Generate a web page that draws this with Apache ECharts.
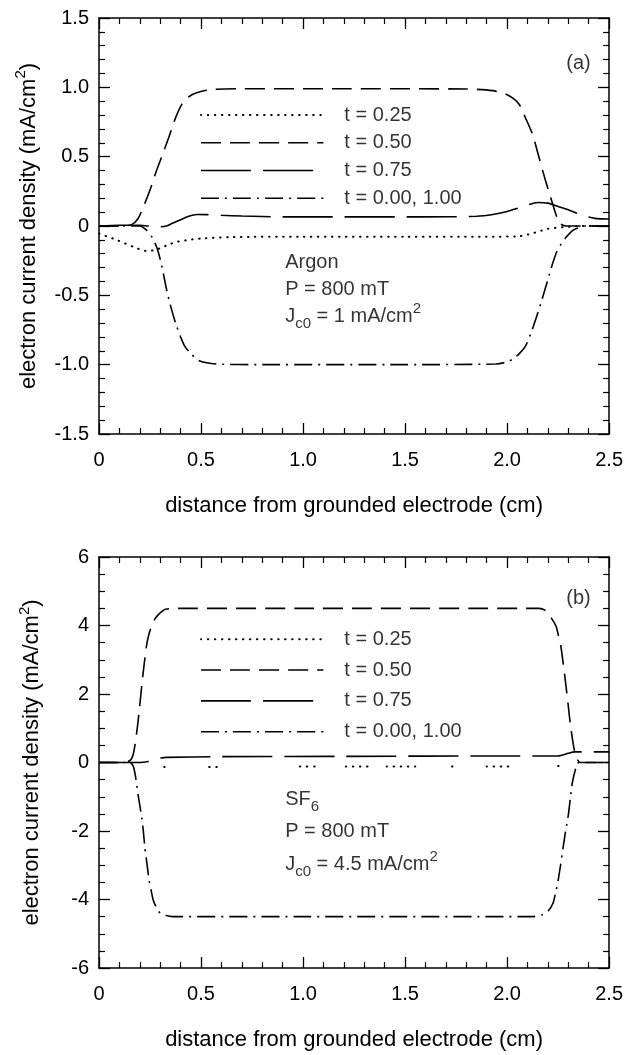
<!DOCTYPE html>
<html>
<head>
<meta charset="utf-8">
<script src="https://cdn.jsdelivr.net/npm/echarts@6/dist/echarts.min.js"></script>
<style>
  html, body { margin: 0; padding: 0; background: #fff; }
  #chart { width: 626px; height: 1055px; }
</style>
</head>
<body>
<div id="chart"></div>
<script>
// (a) Argon, P = 800 mT  -- [x (cm), J (mA/cm2)]
var argonT025 = [[0,-0.055],[0.086,-0.1],[0.168,-0.15],[0.233,-0.18],[0.27,-0.175],[0.3,-0.16],[0.34,-0.135],[0.38,-0.115],[0.44,-0.1],[0.5,-0.09],[0.65,-0.08],[1.0,-0.077],[1.5,-0.077],[1.9,-0.077],[2.05,-0.075],[2.12,-0.055],[2.2,-0.02],[2.29,-0.007],[2.37,0],[2.5,0]];
var argonT050 = [[0,0],[0.12,0],[0.16,0.01],[0.19,0.05],[0.217,0.136],[0.25,0.26],[0.282,0.40],[0.315,0.53],[0.347,0.66],[0.375,0.78],[0.405,0.876],[0.43,0.92],[0.46,0.95],[0.5,0.97],[0.56,0.985],[0.7,0.99],[1.2,0.99],[1.8,0.988],[1.93,0.976],[1.995,0.95],[2.03,0.92],[2.06,0.876],[2.09,0.78],[2.125,0.66],[2.15,0.53],[2.174,0.40],[2.2,0.27],[2.223,0.16],[2.245,0.06],[2.26,0.017],[2.29,0],[2.5,0]];
var argonT075 = [[0,0],[0.1,0.005],[0.2,0.005],[0.24,0],[0.3,-0.005],[0.33,0],[0.36,0.02],[0.4,0.045],[0.44,0.07],[0.48,0.083],[0.53,0.082],[0.6,0.077],[0.7,0.072],[0.9,0.066],[1.2,0.066],[1.6,0.066],[1.85,0.07],[1.93,0.083],[2.0,0.105],[2.08,0.14],[2.15,0.17],[2.2,0.165],[2.25,0.14],[2.3,0.118],[2.37,0.076],[2.43,0.055],[2.5,0.05]];
var argonT000 = [[0,0],[0.2,0],[0.233,-0.03],[0.26,-0.08],[0.282,-0.15],[0.3,-0.24],[0.315,-0.34],[0.33,-0.45],[0.347,-0.556],[0.365,-0.65],[0.38,-0.72],[0.4,-0.8],[0.42,-0.866],[0.45,-0.92],[0.494,-0.974],[0.576,-0.995],[0.8,-1.0],[1.5,-1.0],[1.946,-0.995],[2.0,-0.98],[2.027,-0.96],[2.06,-0.92],[2.09,-0.866],[2.115,-0.78],[2.14,-0.675],[2.165,-0.56],[2.19,-0.437],[2.215,-0.31],[2.24,-0.198],[2.265,-0.13],[2.29,-0.08],[2.315,-0.04],[2.337,-0.02],[2.385,0],[2.5,0]];

// (b) SF6, P = 800 mT
var sfT025 = [[0.32,-0.13],[0.345,-0.13],[0.4,'-'],[0.54,-0.13],[0.59,-0.13],[0.8,'-'],[0.985,-0.12],[1.08,-0.12],[1.15,'-'],[1.21,-0.12],[1.33,-0.12],[1.37,'-'],[1.41,-0.12],[1.55,-0.12],[1.65,'-'],[1.73,-0.12],[1.745,-0.12],[1.8,'-'],[1.9,-0.12],[2.03,-0.12],[2.1,'-'],[2.25,-0.1],[2.265,-0.1]];
var sfT050 = [[0,0],[0.1,0],[0.15,0.05],[0.168,0.25],[0.184,0.84],[0.197,1.5],[0.21,2.27],[0.222,2.9],[0.233,3.41],[0.245,3.75],[0.258,3.98],[0.275,4.2],[0.29,4.31],[0.31,4.42],[0.33,4.48],[0.4,4.5],[1.0,4.5],[2.157,4.5],[2.185,4.45],[2.206,4.31],[2.224,4.15],[2.24,3.98],[2.252,3.7],[2.263,3.41],[2.276,2.85],[2.288,2.27],[2.3,1.65],[2.31,1.12],[2.32,0.7],[2.33,0.36],[2.345,0.08],[2.36,0],[2.5,0]];
var sfT075 = [[0,0],[0.2,0],[0.24,0.03],[0.27,0.1],[0.3,0.13],[0.33,0.15],[0.6,0.17],[1.2,0.18],[2.0,0.19],[2.25,0.19],[2.3,0.27],[2.33,0.31],[2.5,0.31]];
var sfT000 = [[0,0],[0.15,0],[0.168,-0.11],[0.18,-0.45],[0.19,-0.88],[0.2,-1.25],[0.21,-1.64],[0.218,-2.05],[0.225,-2.5],[0.235,-2.95],[0.246,-3.45],[0.256,-3.75],[0.266,-4.02],[0.28,-4.22],[0.3,-4.4],[0.33,-4.47],[0.36,-4.5],[1.0,-4.5],[2.125,-4.5],[2.17,-4.45],[2.2,-4.35],[2.225,-4.11],[2.238,-3.8],[2.25,-3.45],[2.262,-3.0],[2.274,-2.5],[2.287,-2.0],[2.3,-1.54],[2.31,-1.05],[2.32,-0.59],[2.333,-0.25],[2.345,-0.02],[2.36,0],[2.5,0]];

// legend inside the plots
var legendNames = ['t = 0.25', 't = 0.50', 't = 0.75', 't = 0.00, 1.00'];
var legendX = [0.5, 1.1];
var legendTextX = 1.2;
var legendYArgon = [0.8, 0.6, 0.4, 0.2];
var legendYSf = [3.6, 2.7, 1.8, 0.9];

// notes
var argonNotes = [[0.91, -0.26, 'Argon'], [0.91, -0.46, 'P = 800 mT'], [0.91, -0.655, 'J{sub|c0} = 1 mA/cm{sup|2}']];
var sfNotes = [[0.91, -1.07, 'SF{sub|6}'], [0.91, -2.0, 'P = 800 mT'], [0.91, -2.97, 'J{sub|c0} = 4.5 mA/cm{sup|2}']];
var panelTags = [[2.35, 1.17, '(a)'], [2.35, 4.8, '(b)']];

var ink = '#000';
var font = 'Liberation Sans, Arial, Helvetica, sans-serif';
var styles = [
  { type: [0.5, 6.5], cap: 'round', width: 2 },
  { type: [20, 9], width: 1.6 },
  { type: [50, 12], width: 1.6 },
  { type: [18, 6, 2, 6], width: 1.6 }
];
var richSub = {
  sub: { fontSize: 15, fontFamily: font, color: ink, verticalAlign: 'bottom' },
  sup: { fontSize: 15, fontFamily: font, color: ink, verticalAlign: 'top' }
};

function decimalFmt(v) { return v === 0 ? '0' : v.toFixed(1); }

function xAxes(grid) {
  var base = {
    gridIndex: grid, type: 'value', min: 0, max: 2.5, interval: 0.5,
    axisLine: { onZero: false, lineStyle: { color: ink, width: 1.5 } },
    axisTick: { inside: true, length: 11, lineStyle: { color: ink, width: 1.3 } },
    minorTick: { show: true, splitNumber: 5, length: 6, lineStyle: { color: ink, width: 1.2 } },
    splitLine: { show: false }
  };
  var bottom = Object.assign({}, base, {
    position: 'bottom',
    axisLabel: { formatter: decimalFmt, fontSize: 20, fontFamily: font, color: ink, margin: 16 },
    name: 'distance from grounded electrode (cm)', nameLocation: 'middle', nameGap: 61,
    nameTextStyle: { fontSize: 22, fontFamily: font, color: ink }
  });
  var top = Object.assign({}, base, { position: 'top', axisLabel: { show: false } });
  return [bottom, top];
}

function yAxes(grid, min, max, interval, minorSplit, fmt) {
  var base = {
    gridIndex: grid, type: 'value', min: min, max: max, interval: interval,
    axisLine: { onZero: false, lineStyle: { color: ink, width: 1.5 } },
    axisTick: { inside: true, length: 11, lineStyle: { color: ink, width: 1.3 } },
    minorTick: { show: true, splitNumber: minorSplit, length: 6, lineStyle: { color: ink, width: 1.2 } },
    splitLine: { show: false }
  };
  var left = Object.assign({}, base, {
    position: 'left',
    axisLabel: { formatter: fmt, fontSize: 20, fontFamily: font, color: ink, margin: 10 },
    name: 'electron current density (mA/cm{sup|2})', nameLocation: 'middle', nameGap: 52,
    nameTextStyle: { fontSize: 22, fontFamily: font, color: ink, lineHeight: 30,
      rich: { sup: { fontSize: 15, fontFamily: font, color: ink, verticalAlign: 'top' } } }
  });
  var right = Object.assign({}, base, { position: 'right', axisLabel: { show: false } });
  return [left, right];
}

function curve(data, k, xi, yi) {
  return {
    type: 'line', data: data, xAxisIndex: xi, yAxisIndex: yi,
    symbol: 'none', smooth: 0.25, silent: true, animation: false,
    lineStyle: Object.assign({ color: ink }, styles[k])
  };
}

function notes(data, xi, yi, pos) {
  return {
    type: 'scatter', data: data, xAxisIndex: xi, yAxisIndex: yi,
    symbolSize: 1, itemStyle: { color: 'transparent' }, silent: true, animation: false,
    label: {
      show: true, position: pos, distance: 0, color: ink, fontSize: 20, fontFamily: font, lineHeight: 30,
      formatter: function (p) { return p.data[2]; }, rich: richSub
    }
  };
}

var series = [];
[argonT025, argonT050, argonT075, argonT000].forEach(function (d, k) { series.push(curve(d, k, 0, 0)); });
[sfT025, sfT050, sfT075, sfT000].forEach(function (d, k) { series.push(curve(d, k, 2, 2)); });
legendYArgon.forEach(function (y, k) {
  series.push(curve([[legendX[0], y], [legendX[1], y]], k, 0, 0));
});
legendYSf.forEach(function (y, k) {
  series.push(curve([[legendX[0], y], [legendX[1], y]], k, 2, 2));
});
series.push(notes(legendYArgon.map(function (y, k) { return [legendTextX, y, legendNames[k]]; }), 0, 0, 'right'));
series.push(notes(legendYSf.map(function (y, k) { return [legendTextX, y, legendNames[k]]; }), 2, 2, 'right'));
series.push(notes(argonNotes, 0, 0, 'right'));
series.push(notes(sfNotes, 2, 2, 'right'));
series.push(notes([panelTags[0]], 0, 0, 'inside'));
series.push(notes([panelTags[1]], 2, 2, 'inside'));

var chart = echarts.init(document.getElementById('chart'), null, { renderer: 'canvas' });
chart.setOption({
  backgroundColor: '#fff',
  animation: false,
  grid: [
    { left: 99, right: 16, top: 18, height: 416 },
    { left: 99, right: 16, top: 557, height: 411 }
  ],
  xAxis: xAxes(0).concat(xAxes(1)),
  yAxis: yAxes(0, -1.5, 1.5, 0.5, 5, decimalFmt).concat(yAxes(1, -6, 6, 2, 4, function (v) { return String(v); })),
  series: series
});
</script>
</body>
</html>
